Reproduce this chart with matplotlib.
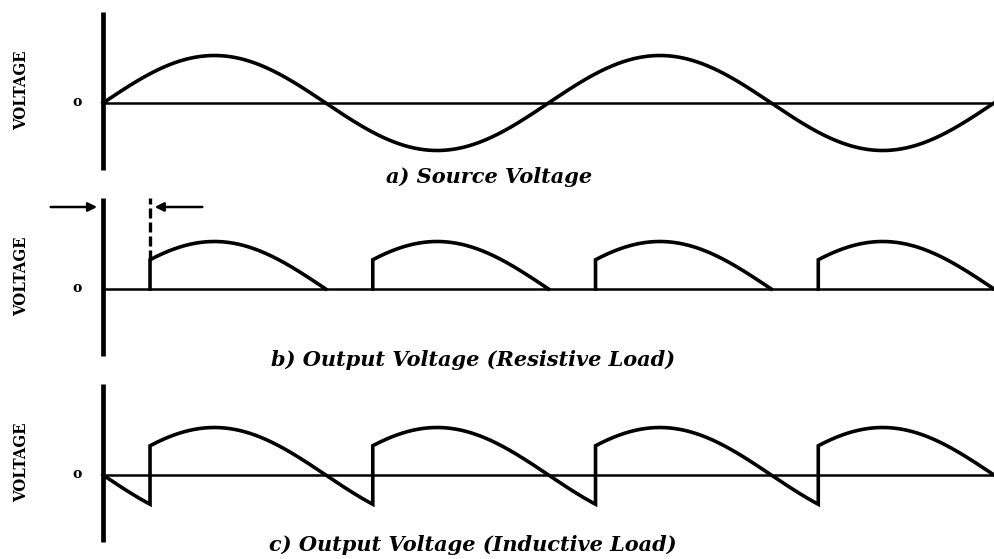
import numpy as np
import matplotlib
matplotlib.use("Agg")
import matplotlib.pyplot as plt

# ---- data / parameters ----
source_peak = 1.0            # normalised amplitude of source voltage
firing_angle_deg = 38.0      # thyristor firing angle alpha
span_deg = 720.0             # two source cycles shown
half_cycles = 4              # output pulses shown in b) and c)
panel_captions = ["a) Source Voltage",
                  "b) Output Voltage (Resistive Load)",
                  "c) Output Voltage (Inductive Load)"]
axis_label = "VOLTAGE"
zero_label = "o"

W, H = 994, 559
DPI = 100
fig = plt.figure(figsize=(W / DPI, H / DPI), dpi=DPI)

px_per_unit = 47.5
x0_px = 103.0
px_per_deg = (W - x0_px) / span_deg
zero_px = [103, 289, 475]          # zero-line position of each panel (from top)
above_px, below_px = 95, 75
xlim = (-x0_px / px_per_deg, span_deg)
ylim = (-below_px / px_per_unit, above_px / px_per_unit)

a = firing_angle_deg
rad = np.radians


def sine(t):
    return source_peak * np.sin(rad(t))


# a) source
theta = np.linspace(0, span_deg, 2001)
ya = sine(theta)

# b) resistive: conduction from alpha to 180 each half cycle, vertical rise at alpha
xb, yb = [], []
for k in range(half_cycles):
    t = np.linspace(a, 180.0, 400)
    xb += [a + 180 * k] + list(t + 180 * k) + [np.nan]
    yb += [0.0] + list(sine(t)) + [np.nan]
xb, yb = np.array(xb), np.array(yb)

# c) inductive: continuous conduction, commutation at alpha + k*180
xc, yc = [], []
t0 = np.linspace(0, a, 100)
xc += list(t0)
yc += list(-sine(t0))
for k in range(half_cycles):
    start = a + 180 * k
    end = min(start + 180.0, span_deg)
    t = np.linspace(a, a + (end - start), 400)
    xc += list(t + 180 * k)
    yc += list(sine(t))
xc, yc = np.array(xc), np.array(yc)

wave_lw = 2.6
axes = []
for k in range(3):
    top = zero_px[k] - above_px
    bottom = zero_px[k] + below_px
    ax = fig.add_axes([0, (H - bottom) / H, 1, (bottom - top) / H])
    ax.set_xlim(*xlim)
    ax.set_ylim(*ylim)
    ax.axis("off")
    ax.plot([0, 0], [-1.4, 1.92], color="black", lw=3.4, solid_capstyle="butt", zorder=3)
    ax.plot([0, span_deg], [0, 0], color="black", lw=1.8, zorder=2)
    ax.text(xlim[0] + 22 / px_per_deg, 13 / px_per_unit, axis_label,
            rotation=90, ha="center", va="center", fontsize=12, fontweight="bold",
            fontstretch="condensed", family=["DejaVu Serif"])
    ax.text(xlim[0] + 77 / px_per_deg, 0.02, zero_label, ha="center", va="center",
            fontsize=10, fontweight="bold", family=["DejaVu Serif"])
    axes.append(ax)

axes[0].plot(theta, ya, color="black", lw=wave_lw, zorder=4)
axes[1].plot(xb, yb, color="black", lw=wave_lw, zorder=4, solid_joinstyle="miter")
axes[2].plot(xc, yc, color="black", lw=wave_lw, zorder=4, solid_joinstyle="miter")

# firing-angle marker in panel b
axb = axes[1]
y_top = 1.92
axb.plot([a, a], [np.sin(rad(a)), y_top], color="black", lw=2.4,
         linestyle=(0, (3, 1.2)), zorder=4)
y_arrow = 82 / px_per_unit
axb.annotate("", xy=(-2.5, y_arrow), xytext=(-44.5, y_arrow),
             arrowprops=dict(arrowstyle="-|>", color="black", lw=1.8, mutation_scale=13),
             annotation_clip=False)
axb.annotate("", xy=(a + 1.5, y_arrow), xytext=(82.5, y_arrow),
             arrowprops=dict(arrowstyle="-|>", color="black", lw=1.8, mutation_scale=13),
             annotation_clip=False)

# captions
cap_pos = [(489, 177), (473, 360), (473, 545)]
for (cx, cy), txt in zip(cap_pos, panel_captions):
    fig.text(cx / W, 1 - cy / H, txt, ha="center", va="center", fontsize=15,
             fontweight="bold", fontstyle="italic", family=["DejaVu Serif"])

fig.savefig("out.png", dpi=DPI, facecolor="white")
